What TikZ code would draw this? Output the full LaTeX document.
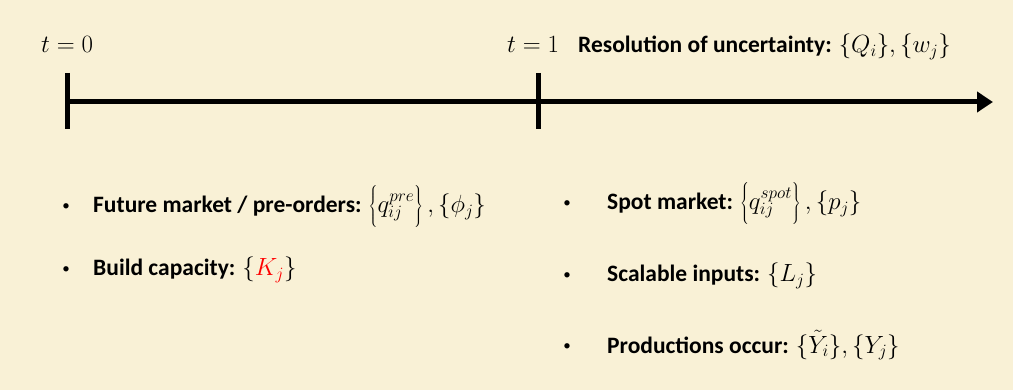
\documentclass[tikz,border=0pt]{standalone}
\usepackage{fontspec}
\setmainfont{Carlito}
\usetikzlibrary{arrows.meta}
\definecolor{paper}{RGB}{249,241,214}
\definecolor{redvar}{RGB}{255,0,0}
% mathematical parts are set a little larger than the running text
\newcommand{\mth}[1]{{\fontsize{27}{30}\selectfont$#1$}}
% invisible strut that makes the outer braces tall
\newcommand{\tallstrut}{\rule[-14pt]{0pt}{38pt}}
\tikzset{
  lbl/.style={anchor=base west, inner sep=0pt, font=\fontsize{23.5}{28}\selectfont},
  dot/.style={anchor=base, inner sep=0pt, font=\fontsize{15}{18}\selectfont},
  tick/.style={line width=5pt},
  axis/.style={line width=5pt, -{Triangle[length=16pt,width=20pt]}}
}
\begin{document}
\begin{tikzpicture}[x=1pt,y=-1pt]
  \fill[paper] (0,0) rectangle (1013,390);
  \useasboundingbox (0,0) rectangle (1013,390);

  % time axis
  \coordinate (start) at (67,102);
  \coordinate (t1) at (538,102);
  \coordinate (end) at (993,102);
  \draw[axis] (start) -- (end);
  \draw[tick] (67,73) coordinate (a0) -- (67,129) coordinate (b0);
  \draw[tick] (538,73) coordinate (a1) -- (538,129) coordinate (b1);

  % time labels
  \node[lbl] (tzero) at (41,53) {\mth{t=0}};
  \node[lbl] (tone) at (507,53) {\mth{t=1}};
  \node[lbl] (resol) at (578,53) {\textbf{Resolution of uncertainty:} \mth{\{Q_i\},\{w_j\}}};

  % decisions at t = 0
  \node[dot] (b1a) at (66,211) {•};
  \node[lbl] (fut) at (93,213) {\textbf{Future market / pre-orders:} \mth{\left\{q_{ij}^{pre}\tallstrut\right\},\{\phi_j\}}};
  \node[dot] (b2a) at (66,274) {•};
  \node[lbl] (cap) at (93,276) {\textbf{Build capacity:} \mth{\{\textcolor{redvar}{K_j}\}}};

  % decisions at t = 1
  \node[dot] (b1b) at (567,208) {•};
  \node[lbl] (spot) at (607,210) {\textbf{Spot market:} \mth{\left\{q_{ij}^{spot}\tallstrut\right\},\{p_j\}}};
  \node[dot] (b2b) at (567,280) {•};
  \node[lbl] (scal) at (607,282) {\textbf{Scalable inputs:} \mth{\{L_j\}}};
  \node[dot] (b3b) at (567,351) {•};
  \node[lbl] (prod) at (607,353) {\textbf{Productions occur:} \mth{\{{\tilde{Y}}_i\},\{Y_j\}}};
\end{tikzpicture}
\end{document}
